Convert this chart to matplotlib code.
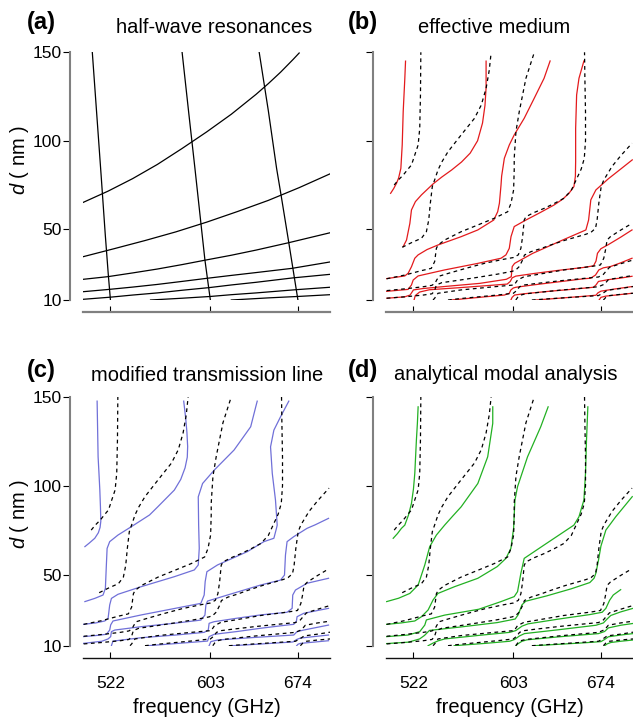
import matplotlib.pyplot as plt

plt.rcParams['font.family'] = ['Liberation Sans', 'DejaVu Sans']
plt.rcParams['mathtext.fontset'] = 'custom'
plt.rcParams['mathtext.it'] = 'Liberation Sans:italic'
plt.rcParams['mathtext.rm'] = 'Liberation Sans'

# axis ticks
freq_ticks = [522, 603, 674]
d_ticks = [10, 50, 100, 150]

# (a) half-wave resonances: steep branches (f in GHz, d in nm)
hw_v1_f = [507.3, 510.9, 514.5, 517.8, 520.3, 522]
hw_v1_d = [150, 115, 80, 47, 24, 10]
hw_v2_f = [580.1, 585.6, 590.5, 595.4, 598.6, 603]
hw_v2_d = [150, 115, 84.4, 53, 32.6, 10]
hw_v3_f = [642.6, 650, 656.7, 660.4, 666.6, 674]
hw_v3_d = [150, 117, 84.4, 69, 42.4, 10]
# (a) shallow branches
hw_h1_f = [500, 520, 540, 560, 580, 600, 620, 640, 650, 660, 670, 675]
hw_h1_d = [65.2, 71.5, 78.6, 86.6, 95.6, 105, 115, 126.2, 132.3, 138.8, 145.9, 149.6]
hw_h2_f = [500, 525, 550, 575, 600, 625, 650, 675, 700]
hw_h2_d = [34.5, 39, 43.6, 48.5, 54, 60, 66.3, 73.5, 81.3]
hw_h3_f = [500, 520, 540, 560, 580, 599.4, 620, 640, 666.6, 700]
hw_h3_d = [21.7, 23.2, 25.3, 27.5, 30, 32.6, 35.3, 38.2, 42.4, 48]
hw_h4_f = [500, 521, 540, 560, 580, 600.7, 620, 640, 669.3, 700]
hw_h4_d = [14.7, 16, 17.3, 18.8, 20.5, 22.3, 23.9, 25.5, 27.9, 31.5]
hw_h5_f = [500, 522, 540, 560, 580, 602, 620, 640, 670, 700]
hw_h5_d = [10.4, 11.6, 12.8, 14, 15.5, 17, 18.5, 20, 22.5, 24.5]
hw_h6_f = [554.5, 580, 603, 620, 640, 672, 700]
hw_h6_d = [10, 11, 12, 13, 14, 15.8, 17.2]
hw_h7_f = [620, 650, 674, 700]
hw_h7_d = [10, 11.2, 12, 13]

# numerical reference (dashed, same in b, c, d)
sim1_f = [506.4, 509.7, 513.7, 517, 520.4, 523.1, 525.8, 527.1, 527.7, 528]
sim1_d = [75, 77.8, 80.6, 83.5, 86.3, 92, 97.6, 107, 126, 150]
sim2_f = [512.9, 520.4, 528.5, 532.5, 534.4, 535.7, 537.3, 539.5, 541.9, 545, 550,
          560.7, 571.5, 577, 580.9, 583.5, 585]
sim2_d = [39.8, 42.4, 44.9, 48.6, 55.2, 64.7, 74.1, 78.5, 83.5, 88, 93.8,
          103.3, 112.7, 120.2, 129.6, 140, 150]
sim3_f = [500.3, 515, 528.5, 536.5, 539.2, 540.6, 542, 547.3, 560.7, 574.2, 587.6,
          598.4, 601.1, 603.2, 603.7, 603.7, 605.1, 607.8, 613.2, 620]
sim3_d = [22, 24.1, 26.6, 27.9, 31.7, 39.2, 41.1, 43.9, 48.6, 52.4, 56.2,
          59.9, 64.7, 72.2, 83.5, 90.1, 105.2, 116.5, 135.3, 150]
sim4_f = [500.3, 515, 530, 537, 539.5, 541, 543, 550, 565, 580, 595, 603, 607,
          609.1, 610.5, 611.8, 613.2, 620, 628, 636, 644, 650, 654, 658, 660.5,
          661.5, 661.5, 661, 660.7]
sim4_d = [15.3, 16.3, 17.5, 18.3, 19.5, 21.5, 23.5, 25, 28, 30.8, 33, 34, 35.5,
          39.2, 45.8, 55.2, 57.1, 59.5, 61.8, 64.5, 67.5, 72, 78, 84, 90,
          100, 116, 135, 150]
sim5_f = [500.3, 515, 530, 537, 539, 540.6, 545, 560, 574, 590, 602, 605, 607.8,
          610.5, 612, 617.2, 625, 633.3, 645, 655, 662, 666, 669.6, 670.9, 672.3,
          674.2, 676.3, 683, 690, 699.2]
sim5_d = [11, 11.8, 12.8, 13.5, 15, 18.5, 19.8, 21.3, 22.8, 24.6, 26.2, 27, 28.9,
          32.6, 35.4, 37.3, 39, 41.1, 43.8, 45.8, 47.2, 48.3, 50.5, 55.2, 64.7,
          74.1, 77.8, 85.5, 91.5, 98.6]
sim6_f = [537.9, 539.2, 541.9, 560.7, 587.6, 603.7, 606.4, 611.8, 619.9, 644,
          665.6, 673.6, 676.3, 677.7, 679, 681.7, 690, 699.2]
sim6_d = [10, 11, 13.8, 15.7, 17.5, 18.5, 21.3, 23.2, 24.1, 27,
          28.9, 29.8, 33.6, 38.3, 43.9, 45.8, 49.5, 53.3]
sim7_f = [550, 560, 575, 590, 603, 606, 608, 612, 620, 640, 660, 672, 676, 679,
          681, 690, 700]
sim7_d = [10, 10.8, 11.8, 12.8, 13.8, 15.5, 17.5, 18.5, 19.2, 20.8, 22.2, 23,
          24.5, 27, 28.5, 30.5, 32.6]
sim8_f = [605, 606.5, 609, 613, 640, 672, 677, 680, 690, 700]
sim8_d = [10, 11.5, 12.8, 13.5, 15.5, 17.5, 19, 21.5, 22.8, 23.8]
sim9_f = [618, 630, 650, 672, 676, 679, 690, 700]
sim9_d = [10, 10.6, 11.5, 12.5, 14, 15.5, 16.5, 17.6]
sim10_f = [676, 678, 681, 690, 700]
sim10_d = [10, 11.5, 12.5, 13.2, 13.8]

# (b) effective medium
em1_f = [503.5, 506, 508.3, 510, 511.8, 512.9, 513.7, 515, 515.6]
em1_d = [70.3, 73, 76, 79, 84.4, 97.6, 116.5, 135, 145]
em2_f = [513.7, 516.4, 519.1, 520.4, 523.6, 528.5, 537.9, 545, 553, 561, 568,
         574, 578, 580, 580.9, 580.9]
em2_d = [40.2, 43.9, 53.3, 60.9, 65.6, 69.4, 75.6, 79.5, 83.5, 88, 93, 100,
         110, 120, 130, 145]
em3_f = [500.3, 515, 517.7, 520.4, 523.1, 525.8, 533, 541.9, 560.7, 574.2, 587.1,
         590.3, 591.7, 593, 593.5, 595.7, 599.7, 603.7, 611.8, 619.9, 627.9, 632.8]
em3_d = [22.1, 23.6, 25.1, 28.8, 33.6, 35.5, 38.5, 41.1, 45.8, 49.6, 55.2,
         59.9, 64.7, 75, 80, 90.1, 97.6, 103.3, 112.7, 124, 135.3, 145.1]
em4_f = [500.3, 517.7, 520.4, 521.8, 525.8, 547.3, 574.2, 593, 597, 599.7, 601.1,
         603.7, 613.2, 625, 636, 643, 648.1, 652.1, 653.3, 653.5, 653.5, 654.3,
         656.2, 660.2]
em4_d = [14.9, 16, 18.5, 21.3, 23.6, 27, 30.7, 33.6, 35.5, 39.2, 45.8,
         51.5, 55.2, 59.5, 63.7, 67, 70.3, 74.1, 80, 88.2, 107, 125.9,
         135.3, 145.1]
em5_f = [500.5, 515, 519.3, 522, 530, 550, 575.8, 597.3, 601.3, 602.1, 604, 618.8,
         643, 661.8, 664, 665.8, 669.9, 680, 690, 699.4]
em5_d = [11, 11.8, 12.8, 15.7, 16.5, 17.8, 19.4, 21.7, 23.2, 28.9, 30.7, 36.4,
         43.9, 49.6, 55.2, 66.6, 72.2, 78.5, 84, 89.2]
em6_f = [522.5, 523.5, 527, 535, 560, 585, 598, 600.5, 602, 605, 620, 640, 660,
         668, 670, 671.2, 674, 680, 690, 699.2]
em6_d = [10, 12.5, 14.5, 15.8, 17, 18.3, 19, 20.5, 22.5, 23.5, 25, 26.8, 28.4,
         29.3, 32, 36.4, 39, 41.3, 45.5, 49.6]
em7_f = [552.7, 565, 580, 595.7, 599.7, 601, 603, 605.1, 620, 640, 660, 665.6,
         669.6, 672.3, 676, 681.7, 690, 699.2]
em7_d = [10, 10.8, 11.8, 12.8, 13.8, 15.7, 16.8, 17.2, 18.6, 20.3, 22, 22.3,
         24.1, 27, 28.2, 28.9, 31, 33.6]
em8_f = [601, 602, 604, 610, 630, 650, 668, 670, 672, 680, 690, 699.2]
em8_d = [10, 11.5, 12.8, 13.4, 14.8, 16, 17.2, 18.5, 20.5, 21.5, 22.4, 23.4]
em9_f = [621.2, 640, 660, 670, 671.5, 674, 685, 699.2]
em9_d = [10, 11, 12.1, 12.7, 14, 15, 16.2, 17.6]
em10_f = [672.5, 674, 678, 690, 699.2]
em10_d = [10, 11.5, 12.2, 13.1, 13.8]

# (c) modified transmission line
tl1_f = [501.3, 505, 509.3, 512.2, 513.6, 514.2, 513.9, 513.4, 512.7, 512, 511.2]
tl1_d = [65.7, 67.8, 70.4, 73.5, 76.5, 80, 88, 97.5, 107, 116.2, 147.5]
tl2_f = [501.3, 509.3, 516, 517.9, 518.7, 519.3, 521.4, 528.1, 538.9, 553.7, 560.4,
         573.8, 579, 582.5, 584.3, 584.6, 584, 583, 581.4]
tl2_d = [34.8, 36.6, 38.5, 42.2, 55.4, 64.7, 68.5, 72.2, 76.9, 83.5, 88.1,
         97.5, 103.5, 110, 116, 122, 130, 138, 147.5]
tl3_f = [499.9, 510, 517.4, 520.1, 521.4, 522.8, 528.1, 547, 573.8, 590, 593.2,
         594, 593.5, 593.2, 596.7, 606.1, 622.2, 635.7, 640.5, 641]
tl3_d = [22, 22.8, 23.9, 25.4, 32.9, 36.6, 38.9, 43.2, 48.8, 52.6, 55.4,
         64.7, 78, 93.7, 101.2, 108.7, 120, 133.1, 146.2, 147.5]
tl4_f = [499.9, 510, 518.7, 521.4, 522.2, 524.1, 547, 581.9, 595.3, 598, 598.8,
         600.2, 608.8, 633, 646.4, 654.5, 656.6, 657.2, 655.8, 653.2, 651.8,
         654.5, 659.9, 666.6]
tl4_d = [15.1, 15.7, 16.4, 18.8, 21.7, 23.9, 27.3, 32, 33.8, 38.5, 46,
         51.6, 55.4, 62.9, 68.5, 70.4, 76, 77.8, 91.9, 106.9, 121.8,
         131.2, 138.7, 147.5]
tl5_f = [499.9, 515, 520.1, 522.2, 522.8, 525.5, 547, 573.8, 595.3, 598.6, 599.4,
         600.7, 616.9, 643.7, 659.9, 663.1, 663.9, 665.2, 670.6, 681.4, 688.1, 698.8]
tl5_d = [11.3, 12.5, 13.8, 15.1, 17.9, 18.8, 20.7, 22.6, 24.4, 27.2, 32.9,
         35.1, 38.5, 44.1, 46.9, 49.7, 61, 68.5, 71.3, 76, 78, 81.6]
tl6_f = [522.8, 523.5, 524.1, 547, 575, 598, 601.3, 602, 606.1, 625, 643.7, 665.2,
         669.3, 669.8, 672, 681.4, 690, 698.8]
tl6_d = [10, 11.5, 12.6, 14.5, 16, 17.5, 18.8, 22.6, 23.5, 25.5, 27.3, 28.8,
         31, 38.5, 41.3, 45.1, 46.5, 47.9]
tl7_f = [552.3, 575, 600.7, 602, 606.1, 625, 643.7, 665, 670.6, 672.8, 673.3,
         678.7, 690, 698.8]
tl7_d = [10, 11.2, 12.6, 15.1, 16.4, 18, 19.8, 21.6, 22, 23.9, 26.3, 28.2, 29.8, 31]
tl8_f = [602, 603.4, 608.8, 640, 670.6, 673.3, 678.7, 698.8]
tl8_d = [10, 12.3, 13.2, 14.7, 16, 17.9, 18.8, 21.6]
tl9_f = [620.9, 645, 670, 673, 676, 698.8]
tl9_d = [10, 11, 12.1, 13.5, 14.3, 16]
tl10_f = [673, 674, 676, 698.8]
tl10_d = [10, 10.8, 11.3, 12.8]

# (d) analytical modal analysis
am1_f = [505.6, 509, 512.3, 515, 518, 520.4, 522, 523.1, 524.4, 525.2, 525.8]
am1_d = [70.4, 73, 76, 77.8, 83.5, 90, 98, 106.9, 125.6, 135, 144.3]
am2_f = [500.3, 510, 519.1, 525.8, 531.2, 535.2, 540.6, 547.3, 554, 560.7, 574.2,
         582.2, 586.3, 586.3]
am2_d = [34.8, 36.7, 39.4, 44.1, 55.4, 65.7, 72.2, 77.8, 83, 88.1, 101.2,
         116.2, 135, 144.3]
am3_f = [500.3, 512, 523.1, 528.5, 533.9, 537.9, 541.9, 555.4, 574.2, 590, 597,
         601, 603.2, 603.7, 604.3, 606.4, 614.5, 625.2, 631.2]
am3_d = [22, 22.8, 23.9, 26.3, 30.1, 35.7, 39.4, 43.2, 47.9, 54.5, 59.1,
         64.7, 76, 83.5, 91.9, 99.4, 116.2, 133.1, 144.3]
am4_f = [500.3, 517.7, 527.1, 531.2, 532.5, 547.3, 575, 593, 603.7, 606.4, 609.1,
         611.8, 627.9, 644.1, 652.1, 656.2, 660.2, 661.5, 662.3, 663.4]
am4_d = [15.1, 16, 17.9, 21.6, 24.5, 27.2, 30.5, 34.8, 37.6, 40.4, 50.7,
         59.1, 66.6, 74.1, 77.8, 82.5, 91.9, 106.9, 125.6, 144.3]
am5_f = [500.3, 518, 527, 531, 535, 560, 590, 604.5, 607, 610, 613, 630, 650, 665,
         668.5, 670, 672, 674, 678, 686, 699.4]
am5_d = [11.2, 12, 13.8, 15.8, 18.6, 20.5, 23, 25, 27.5, 33, 35, 38, 42, 45.5,
         48, 51, 58, 66, 75, 82.5, 93.8]
am6_f = [533.9, 538, 541.9, 547.3, 575, 600, 605, 610, 615, 640, 665, 675, 678,
         681, 684, 690]
am6_d = [10, 11.5, 12.7, 13.8, 15.8, 17.5, 18.5, 21, 22.3, 25, 27.5, 28.8, 31,
         35.5, 38.5, 41.5]
am7_f = [555, 580, 600, 604, 608, 612, 640, 670, 676, 679, 682, 690, 700]
am7_d = [10, 11.3, 12.5, 13.5, 15.5, 16.8, 19, 21.5, 22.8, 25, 27, 29, 31]
am8_f = [605, 607, 610, 614, 640, 672, 677, 680, 690, 700]
am8_d = [10, 11.2, 12.5, 13.3, 15, 16.8, 18, 20, 21.5, 22.5]
am9_f = [620, 640, 660, 674, 677, 680, 690, 700]
am9_d = [10, 10.8, 11.6, 12.3, 13.5, 15, 16, 16.8]
am10_f = [677, 679, 682, 690, 700]
am10_d = [10, 11, 11.8, 12.5, 13.2]

hw_steep = [(hw_v1_f, hw_v1_d), (hw_v2_f, hw_v2_d), (hw_v3_f, hw_v3_d)]
hw_shallow = [(hw_h1_f, hw_h1_d), (hw_h2_f, hw_h2_d), (hw_h3_f, hw_h3_d),
              (hw_h4_f, hw_h4_d), (hw_h5_f, hw_h5_d), (hw_h6_f, hw_h6_d),
              (hw_h7_f, hw_h7_d)]
sim = [(sim1_f, sim1_d), (sim2_f, sim2_d), (sim3_f, sim3_d), (sim4_f, sim4_d),
       (sim5_f, sim5_d), (sim6_f, sim6_d), (sim7_f, sim7_d), (sim8_f, sim8_d),
       (sim9_f, sim9_d), (sim10_f, sim10_d)]
em = [(em1_f, em1_d), (em2_f, em2_d), (em3_f, em3_d), (em4_f, em4_d),
      (em5_f, em5_d), (em6_f, em6_d), (em7_f, em7_d), (em8_f, em8_d),
      (em9_f, em9_d), (em10_f, em10_d)]
tl = [(tl1_f, tl1_d), (tl2_f, tl2_d), (tl3_f, tl3_d), (tl4_f, tl4_d),
      (tl5_f, tl5_d), (tl6_f, tl6_d), (tl7_f, tl7_d), (tl8_f, tl8_d),
      (tl9_f, tl9_d), (tl10_f, tl10_d)]
am = [(am1_f, am1_d), (am2_f, am2_d), (am3_f, am3_d), (am4_f, am4_d),
      (am5_f, am5_d), (am6_f, am6_d), (am7_f, am7_d), (am8_f, am8_d),
      (am9_f, am9_d), (am10_f, am10_d)]

W, H = 633, 725
fig = plt.figure(figsize=(W / 100, H / 100), dpi=100)


def px_box(left, top, right, bottom):
    return [left / W, 1 - bottom / H, (right - left) / W, (bottom - top) / H]


ax_a = fig.add_axes(px_box(83.3, 52.3, 330, 300))
ax_b = fig.add_axes(px_box(386.3, 52.3, 633, 300))
ax_c = fig.add_axes(px_box(83.3, 396.7, 330, 645.7))
ax_d = fig.add_axes(px_box(386.3, 396.7, 633, 645.7))

for ax, bottom_dark in [(ax_a, False), (ax_b, False), (ax_c, True), (ax_d, True)]:
    ax.set_xlim(500, 700)
    ax.set_ylim(10, 150)
    ax.spines['top'].set_visible(False)
    ax.spines['right'].set_visible(False)
    ax.spines['left'].set_position(('outward', 9.4))
    ax.spines['bottom'].set_position(('outward', 9))
    ax.spines['left'].set_color('#808080')
    ax.spines['left'].set_linewidth(1.5)
    if bottom_dark:
        ax.spines['bottom'].set_color('#111111')
        ax.spines['bottom'].set_linewidth(1.0)
    else:
        ax.spines['bottom'].set_color('#808080')
        ax.spines['bottom'].set_linewidth(1.6)
    ax.set_xticks(freq_ticks)
    ax.set_yticks(d_ticks)
    ax.tick_params(axis='y', direction='out', length=4.8, width=0.8, pad=1.2,
                   labelsize=12.5)
    ax.tick_params(axis='x', direction='in', length=4.3, width=0.8, pad=13,
                   labelsize=12.5)
    ax.patch.set_visible(False)

for ax in (ax_b, ax_d):
    ax.set_yticklabels([])
for ax in (ax_a, ax_b):
    ax.set_xticklabels([])

# panel (a)
for f, d in hw_steep + hw_shallow:
    ax_a.plot(f, d, color='black', lw=0.9)

# panels (b)-(d): model curves with numerical reference dashed on top
for ax, curves, col in [(ax_b, em, '#e31a1c'), (ax_c, tl, '#7070d8'),
                        (ax_d, am, '#22b022')]:
    for f, d in curves:
        ax.plot(f, d, color=col, lw=0.9)
    for f, d in sim:
        ax.plot(f, d, color='black', lw=0.9, dashes=(3, 2.8))

ax_a.set_ylabel(r'$d$ ( nm )', fontsize=14.5)
ax_a.yaxis.set_label_coords(-0.214, 0.565)
ax_c.set_ylabel(r'$d$ ( nm )', fontsize=14.5)
ax_c.yaxis.set_label_coords(-0.214, 0.528)
for ax in (ax_c, ax_d):
    ax.set_xlabel('frequency (GHz)', fontsize=14.5)
    ax.xaxis.set_label_coords(0.5, -0.212)

# panel letters and titles
panel_text = [('(a)', 27, 28.7, 'half-wave resonances', 214, 33.3),
              ('(b)', 348.3, 28.7, 'effective medium', 494.5, 33.3),
              ('(c)', 27, 377, 'modified transmission line', 207, 380.7),
              ('(d)', 348.3, 377, 'analytical modal analysis', 505.8, 380)]
for lab, lx, ly, title, tx, ty in panel_text:
    fig.text(lx / W, 1 - ly / H, lab, fontsize=17, fontweight='bold',
             ha='left', va='baseline')
    fig.text(tx / W, 1 - ty / H, title, fontsize=14.5, ha='center',
             va='baseline')

fig.savefig('out.png', dpi=100)
